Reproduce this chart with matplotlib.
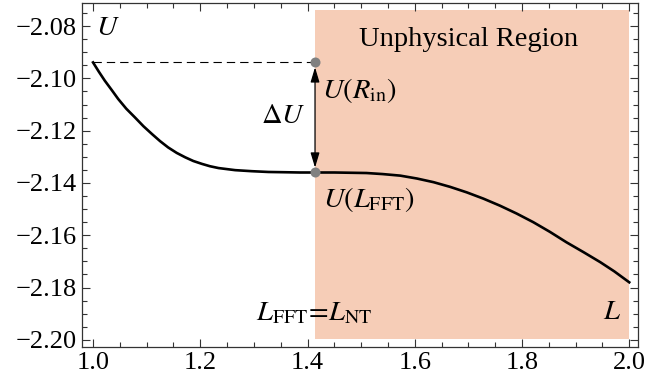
import matplotlib
matplotlib.use('Agg')
import matplotlib.pyplot as plt
from matplotlib.ticker import MultipleLocator

plt.rcParams['font.family'] = 'Liberation Serif'
plt.rcParams['mathtext.fontset'] = 'stix'

# curve
L_vals = [1.0, 1.011, 1.022, 1.035, 1.047, 1.062, 1.078, 1.094, 1.11, 1.125, 1.14, 1.156,
          1.172, 1.187, 1.203, 1.218, 1.234, 1.265, 1.296, 1.327, 1.358, 1.386, 1.414,
          1.45, 1.48, 1.51, 1.54, 1.573, 1.604, 1.635, 1.666, 1.697, 1.728, 1.759,
          1.79, 1.821, 1.852, 1.883, 1.915, 1.946, 1.972, 2.0]
U_vals = [-2.0939, -2.0975, -2.1009, -2.1045, -2.1079, -2.1116, -2.1149, -2.1183,
          -2.1213, -2.124, -2.1264, -2.1285, -2.1302, -2.1316, -2.1327, -2.1336,
          -2.1343, -2.1351, -2.1355, -2.1358, -2.1359, -2.136, -2.136, -2.136,
          -2.1361, -2.1362, -2.1366, -2.1372, -2.1383, -2.1397, -2.1415, -2.1436,
          -2.146, -2.1487, -2.1517, -2.155, -2.1587, -2.1627, -2.1665, -2.1703,
          -2.1738, -2.178]

L_fft = 1.414
U_rin = -2.0939
U_lfft = -2.136

fig, ax = plt.subplots(figsize=(6.46, 3.85), dpi=100)
fig.subplots_adjust(left=0.127, right=0.988, top=0.992, bottom=0.099)

ax.axvspan(L_fft, 2.0, ymin=0.022, ymax=0.981, color='#F6CDB7', lw=0, zorder=0)

ax.plot(L_vals, U_vals, color='black', lw=1.9, zorder=3)
ax.plot([1.0, L_fft], [U_rin, U_rin], color='black', lw=0.8, ls=(0, (7.5, 4.5)), zorder=2)
ax.annotate('', xy=(L_fft, U_rin), xytext=(L_fft, U_lfft),
            arrowprops=dict(arrowstyle='<|-|>,head_length=0.5,head_width=0.15',
                            color='black', lw=0.9, mutation_scale=18,
                            shrinkA=3.5, shrinkB=3.5), zorder=4)
ax.scatter([L_fft, L_fft], [U_rin, U_lfft], s=52, color='#808080', zorder=5, lw=0)

fs = 20.5
ax.text(1.028, -2.0808, r'$U$', fontsize=fs, ha='center', va='center')
ax.text(1.70, -2.085, 'Unphysical Region', fontsize=fs, ha='center', va='center')
ax.text(1.3955, -2.1146, r'$\Delta U$', fontsize=fs, ha='right', va='center')
ax.text(1.427, -2.1045, r'$U(R_{\mathrm{in}})$', fontsize=fs, ha='left', va='center')
ax.text(1.428, -2.1465, r'$U(L_{\mathrm{FFT}})$', fontsize=fs, ha='left', va='center')
ax.text(1.413, -2.190, r'$L_{\mathrm{FFT}}\!=\!L_{\mathrm{NT}}$', fontsize=fs, ha='center', va='center')
ax.text(1.968, -2.1897, r'$L$', fontsize=fs, ha='center', va='center')

ax.set_xlim(0.9795, 2.0168)
ax.set_ylim(-2.2027, -2.0712)
ax.xaxis.set_major_locator(MultipleLocator(0.2))
ax.xaxis.set_minor_locator(MultipleLocator(0.05))
ax.yaxis.set_major_locator(MultipleLocator(0.02))
ax.yaxis.set_minor_locator(MultipleLocator(0.005))
ax.xaxis.set_major_formatter(plt.FuncFormatter(lambda v, p: f'{v:.1f}'))
ax.yaxis.set_major_formatter(plt.FuncFormatter(lambda v, p: f'\u2212{abs(v):.2f}' if v < 0 else f'{v:.2f}'))
ax.tick_params(which='both', direction='in', top=True, right=True, labelsize=19, width=0.8, color='#333333')
ax.tick_params(which='major', length=6)
ax.tick_params(which='minor', length=3.5)
ax.tick_params(axis='y', pad=4)
for s in ax.spines.values():
    s.set_linewidth(0.9)
    s.set_color('#333333')

fig.savefig('out.png', dpi=100)
